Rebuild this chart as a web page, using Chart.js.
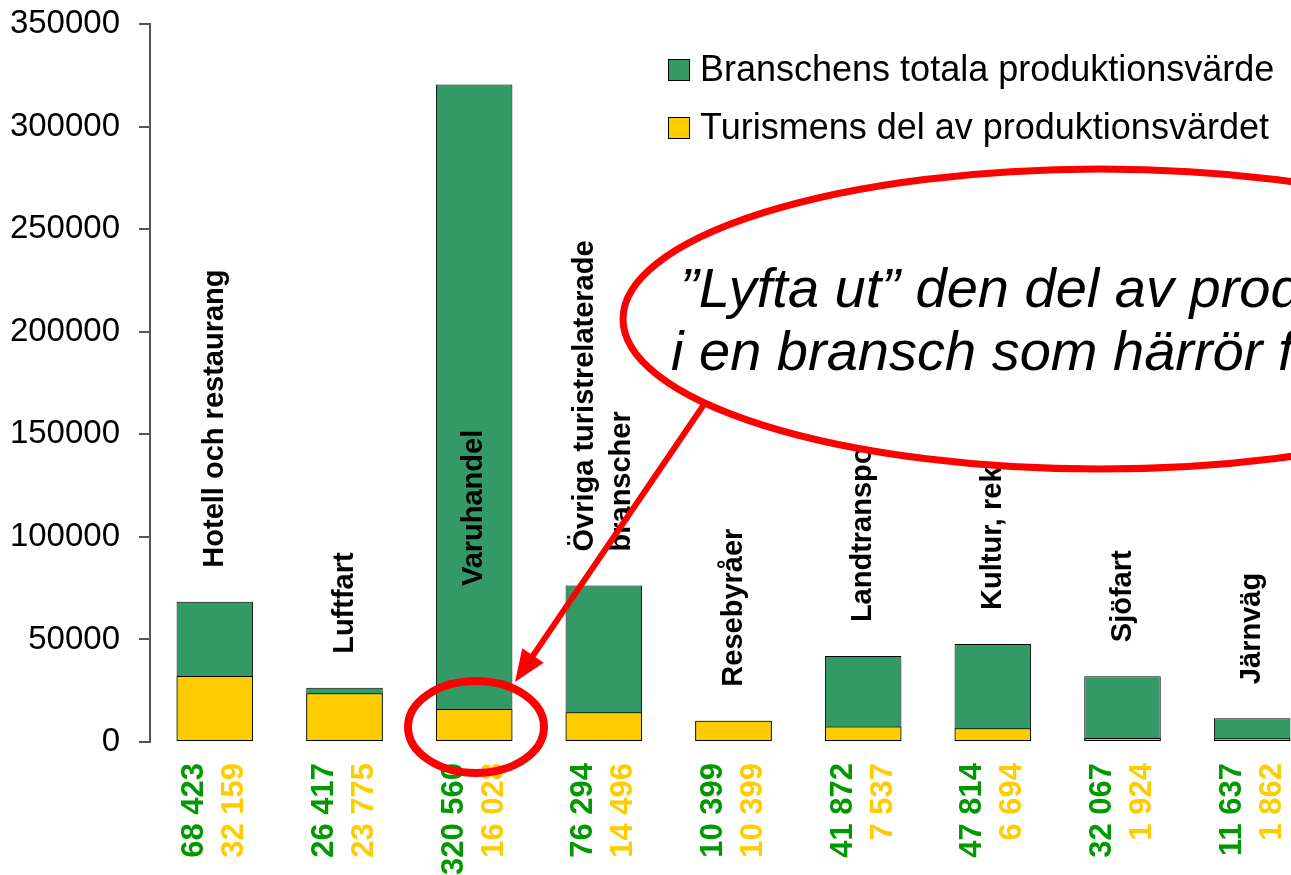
<!DOCTYPE html>
<html><head><meta charset="utf-8">
<script src="https://cdn.jsdelivr.net/npm/chart.js@4/dist/chart.umd.min.js"></script>
<style>html,body{margin:0;padding:0;background:#fff;overflow:hidden}#wrap{width:1317px;height:875px}</style>
</head><body><div id="wrap"><canvas id="c" width="1317" height="875"></canvas></div>
<script>
const categories = [["Hotell och restaurang"],["Luftfart"],["Varuhandel"],["Övriga turistrelaterade","branscher"],["Resebyråer"],["Landtransport"],["Kultur, rekreation och sport"],["Sjöfart"],["Järnväg"]];
const totals = [68423, 26417, 320560, 76294, 10399, 41872, 47814, 32067, 11637];
const tourism = [32159, 23775, 16028, 14496, 10399, 7537, 6694, 1924, 1862];
const seriesNames = ["Branschens totala produktionsvärde", "Turismens del av produktionsvärdet"];
const calloutLines = ["\u201DLyfta ut\u201D den del av produktionsvärdet", "i en bransch som härrör från turismen"];

const GREEN = '#339966', YELLOW = '#FFCC00', NUM_GREEN = '#009900';
const fmt = v => String(v).replace(/\B(?=(\d{3})+(?!\d))/g, ' ');

const overlay = {
  id: 'overlay',
  afterDatasetsDraw(chart) {
    const ctx = chart.ctx, xs = chart.scales.x, ys = chart.scales.y;
    ctx.save();
    categories.forEach((lines, i) => {
      const x = xs.getPixelForValue(i);
      const base = totals[i] > 200000 ? ys.getPixelForValue(76000) : ys.getPixelForValue(totals[i]) - 34;
      ctx.font = 'bold 29px "Liberation Sans", Arial, sans-serif';
      ctx.fillStyle = '#000';
      ctx.textAlign = 'left'; ctx.textBaseline = 'middle';
      lines.forEach((ln, k) => {
        const off = (k - (lines.length - 1) / 2) * 37;
        ctx.save(); ctx.translate(x + off, base); ctx.rotate(-Math.PI / 2);
        ctx.fillText(ln, 0, 0); ctx.restore();
      });
      const by = ys.getPixelForValue(0) + 21;
      ctx.font = 'bold 31px "Liberation Sans", Arial, sans-serif';
      ctx.textAlign = 'right';
      [[totals[i], NUM_GREEN, -20], [tourism[i], YELLOW, 20]].forEach(([v, c, dx]) => {
        ctx.save(); ctx.translate(x + dx, by); ctx.rotate(-Math.PI / 2);
        ctx.fillStyle = c; ctx.fillText(fmt(v), 0, 0); ctx.restore();
      });
    });
    ctx.restore();
  },
  afterDraw(chart) {
    const ctx = chart.ctx;
    ctx.save();
    // legend
    ctx.font = '36px "Liberation Sans", Arial, sans-serif';
    ctx.textAlign = 'left'; ctx.textBaseline = 'middle';
    [[GREEN, 70], [YELLOW, 128]].forEach(([c, y], k) => {
      ctx.fillStyle = c; ctx.fillRect(668.5, y - 10.5, 21, 21);
      ctx.strokeStyle = '#000'; ctx.lineWidth = 1; ctx.strokeRect(668.5, y - 10.5, 21, 21);
      ctx.fillStyle = '#000'; ctx.fillText(seriesNames[k], 700, y + 1);
    });
    // big callout ellipse
    ctx.beginPath(); ctx.ellipse(1100, 319, 477, 150, 0, 0, Math.PI * 2);
    ctx.fillStyle = '#fff'; ctx.fill();
    ctx.strokeStyle = '#FF0000'; ctx.lineWidth = 7; ctx.stroke();
    ctx.fillStyle = '#000';
    ctx.font = 'italic 56px "Liberation Sans", Arial, sans-serif';
    ctx.textBaseline = 'alphabetic';
    ctx.fillText(calloutLines[0], 680, 307);
    ctx.fillText(calloutLines[1], 671, 370);
    // arrow
    const x0 = 705, y0 = 403, x1 = 515, y1 = 682;
    const L = Math.hypot(x1 - x0, y1 - y0), ux = (x1 - x0) / L, uy = (y1 - y0) / L;
    const hl = 32, hw = 13;
    const bx = x1 - ux * hl, byy = y1 - uy * hl;
    ctx.beginPath(); ctx.moveTo(x0, y0); ctx.lineTo(bx + ux * 4, byy + uy * 4);
    ctx.lineWidth = 6; ctx.stroke();
    ctx.beginPath(); ctx.moveTo(x1, y1);
    ctx.lineTo(bx - uy * hw, byy + ux * hw); ctx.lineTo(bx + uy * hw, byy - ux * hw); ctx.closePath();
    ctx.fillStyle = '#FF0000'; ctx.fill();
    // small ellipse
    ctx.beginPath(); ctx.ellipse(476, 727, 68, 46, 0, 0, Math.PI * 2);
    ctx.lineWidth = 8; ctx.strokeStyle = '#FF0000'; ctx.stroke();
    ctx.restore();
  }
};

new Chart(document.getElementById('c'), {
  type: 'bar',
  data: {
    labels: categories,
    datasets: [
      { label: seriesNames[0], data: totals, backgroundColor: GREEN, borderColor: '#000', borderWidth: 1, borderSkipped: false, order: 2, grouped: false, barPercentage: 0.59, categoryPercentage: 1 },
      { label: seriesNames[1], data: tourism, backgroundColor: YELLOW, borderColor: '#000', borderWidth: 1, borderSkipped: false, order: 1, grouped: false, barPercentage: 0.59, categoryPercentage: 1 }
    ]
  },
  options: {
    responsive: false, animation: false, devicePixelRatio: 1,
    layout: { padding: { top: 24, left: 0, right: 0, bottom: 0 } },
    plugins: { legend: { display: false }, tooltip: { enabled: false } },
    scales: {
      x: {
        grid: { display: false }, border: { display: false },
        ticks: { display: false },
        afterFit(s) { s.height = 133; }
      },
      y: {
        min: 0, max: 350000,
        ticks: { stepSize: 50000, color: '#000', padding: 19, callback: v => String(v), font: { family: '"Liberation Sans", Arial, sans-serif', size: 33 } },
        grid: { drawOnChartArea: false, drawTicks: true, tickLength: 11, color: '#555', lineWidth: 2 },
        border: { display: true, color: '#555', width: 2 },
        afterFit(s) { s.width = 150; s.paddingTop = 0; s.paddingBottom = 0; }
      }
    }
  },
  plugins: [overlay]
});
</script>
</body></html>
